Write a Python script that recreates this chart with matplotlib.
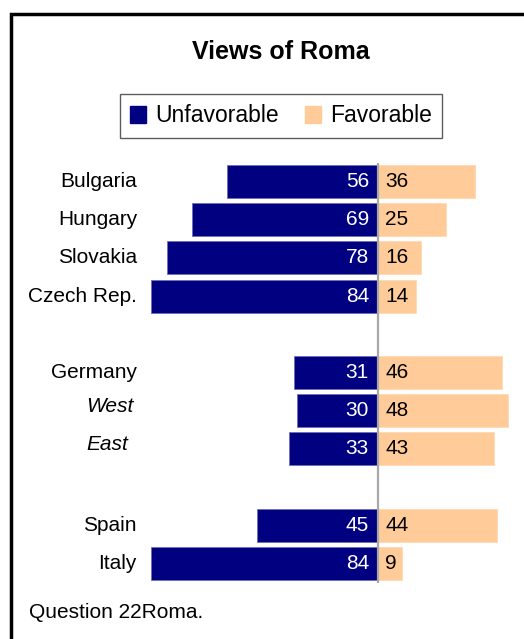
import matplotlib
matplotlib.use("Agg")
import matplotlib.pyplot as plt
from matplotlib.patches import Rectangle, Patch

plt.rcParams['font.family'] = ['Liberation Sans', 'DejaVu Sans']

# data
countries = ["Bulgaria", "Hungary", "Slovakia", "Czech Rep.",
             "Germany", "West", "East", "Spain", "Italy"]
unfavorable = [56, 69, 78, 84, 31, 30, 33, 45, 84]
favorable = [36, 25, 16, 14, 46, 48, 43, 44, 9]
rows = [0, 1, 2, 3, 5, 6, 7, 9, 10]
italic_rows = ["West", "East"]

navy = "#000080"
peach = "#FFCC99"

W, H = 524, 639
fig = plt.figure(figsize=(W / 100, H / 100), dpi=100)

# pixel helpers
def fx(px):
    return px / W

def fy(py):
    return 1 - py / H

center_px = 378
px_per_unit = 2.70
ax_top, ax_bot = 163, 583
row0, row_step = 181.5, 38.2

ax = fig.add_axes([0, fy(ax_bot), 1, (ax_bot - ax_top) / H])
ax.set_xlim(-center_px / px_per_unit, (W - center_px) / px_per_unit)
ax.set_ylim(10 + (ax_bot - (row0 + 10 * row_step)) / row_step,
            -(row0 - ax_top) / row_step)
ax.axis("off")

bh = 33 / row_step
ax.barh(rows, [-v for v in unfavorable], height=bh, color=navy,
        edgecolor="#6f6fb8", linewidth=0.6)
ax.barh(rows, favorable, height=bh, color=peach, edgecolor="#ffd9b3",
        linewidth=0.6)
ax.axvline(0, color="#a8a8a8", linewidth=1.6)

off = 9 / px_per_unit
for r, u, f, name in zip(rows, unfavorable, favorable, countries):
    ax.text(-off, r, str(u), color="white", fontsize=15,
            ha="right", va="center")
    ax.text(off - 0.6, r, str(f), color="black", fontsize=15,
            ha="left", va="center")
    if name in italic_rows:
        ax.text((86 - center_px) / px_per_unit, r - 0.12, name,
                fontsize=15, style="italic", ha="left", va="center")
    else:
        ax.text((137 - center_px) / px_per_unit, r, name,
                fontsize=15, ha="right", va="center")

fig.text(fx(281), fy(52), "Views of Roma", fontsize=18,
         fontweight="bold", ha="center", va="center")

handles = [Patch(facecolor=navy, edgecolor=navy, label="Unfavorable"),
           Patch(facecolor=peach, edgecolor=peach, label="Favorable")]
leg = fig.legend(handles=handles, loc="center", ncol=2,
                 bbox_to_anchor=(fx(281), fy(116)), fontsize=16.5,
                 frameon=True, fancybox=False, handlelength=0.7,
                 handleheight=0.7, handletextpad=0.4, columnspacing=1.15,
                 borderpad=0.45, borderaxespad=0)
leg.get_frame().set_edgecolor("#333333")
leg.get_frame().set_linewidth(1.0)

fig.text(fx(29), fy(612), "Question 22Roma.", fontsize=15,
         ha="left", va="center")

# outer frame, only top and left edges fall inside the image
fig.patches.append(Rectangle((fx(11), -0.2), 1.2, fy(14) + 0.2,
                             transform=fig.transFigure, fill=False,
                             edgecolor="black", linewidth=2.5))

fig.savefig("out.png", dpi=100)
